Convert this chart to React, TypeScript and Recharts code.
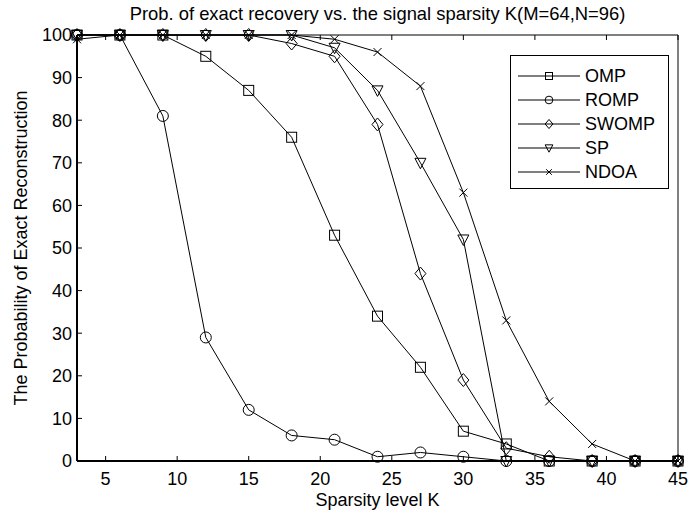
import React from 'react';
import { Legend, Line, LineChart, XAxis, YAxis } from 'recharts';

const ks = [3, 6, 9, 12, 15, 18, 21, 24, 27, 30, 33, 36, 39, 42, 45];
const ompVals = [100, 100, 100, 95, 87, 76, 53, 34, 22, 7, 4, 0, 0, 0, 0];
const rompVals = [100, 100, 81, 29, 12, 6, 5, 1, 2, 1, 0, 0, 0, 0, 0];
const swompVals = [100, 100, 100, 100, 100, 98, 95, 79, 44, 19, 3, 1, 0, 0, 0];
const spVals = [100, 100, 100, 100, 100, 100, 97, 87, 70, 52, 0, 0, 0, 0, 0];
const ndoaVals = [99, 100, 100, 100, 100, 100, 99, 96, 88, 63, 33, 14, 4, 0, 0];

const xTicks = [5, 10, 15, 20, 25, 30, 35, 40, 45];
const yTicks = [0, 10, 20, 30, 40, 50, 60, 70, 80, 90, 100];

const FONT = '"Liberation Sans", Arial, sans-serif';
const TICK_LEN = 5;

type Shape = 'square' | 'circle' | 'diamond' | 'triangle' | 'cross';

const series: { key: string; name: string; shape: Shape }[] = [
  { key: 'omp', name: 'OMP', shape: 'square' },
  { key: 'romp', name: 'ROMP', shape: 'circle' },
  { key: 'swomp', name: 'SWOMP', shape: 'diamond' },
  { key: 'sp', name: 'SP', shape: 'triangle' },
  { key: 'ndoa', name: 'NDOA', shape: 'cross' }
];

const data = ks.map((k, i) => ({
  k,
  omp: ompVals[i],
  romp: rompVals[i],
  swomp: swompVals[i],
  sp: spVals[i],
  ndoa: ndoaVals[i]
}));

function marker(shape: Shape, cx: number, cy: number, s: number, key?: string) {
  const common = { fill: 'none', stroke: '#000', strokeWidth: 1 };
  switch (shape) {
    case 'square':
      return <rect key={key} x={cx - 5 * s} y={cy - 5 * s} width={10 * s} height={10 * s} {...common} />;
    case 'circle':
      return <circle key={key} cx={cx} cy={cy} r={5.5 * s} {...common} />;
    case 'diamond':
      return (
        <polygon
          key={key}
          points={`${cx},${cy - 6.5 * s} ${cx + 5.5 * s},${cy} ${cx},${cy + 6.5 * s} ${cx - 5.5 * s},${cy}`}
          {...common}
        />
      );
    case 'triangle':
      return (
        <polygon
          key={key}
          points={`${cx - 5.5 * s},${cy - 4.5 * s} ${cx + 5.5 * s},${cy - 4.5 * s} ${cx},${cy + 6 * s}`}
          {...common}
        />
      );
    default:
      return (
        <path
          key={key}
          d={`M${cx - 4 * s},${cy - 4 * s}L${cx + 4 * s},${cy + 4 * s}M${cx - 4 * s},${cy + 4 * s}L${cx + 4 * s},${cy - 4 * s}`}
          {...common}
        />
      );
  }
}

// inward MATLAB-style ticks; tickSize is 0 so the tick position sits on the axis line
const BOTTOM_GAP = 11;
function BottomTick(p: any) {
  const axisY = p.y - BOTTOM_GAP;
  return (
    <g>
      <line x1={p.x} x2={p.x} y1={axisY} y2={axisY - TICK_LEN} stroke="#000" />
      <text x={p.x} y={p.y} dy="0.71em" textAnchor="middle" fontSize={18} fontFamily={FONT} fill="#000">
        {p.payload.value}
      </text>
    </g>
  );
}

const LEFT_GAP = 5;
function LeftTick(p: any) {
  const axisX = p.x + LEFT_GAP;
  return (
    <g>
      <line x1={axisX} x2={axisX + TICK_LEN} y1={p.y} y2={p.y} stroke="#000" />
      <text x={p.x} y={p.y} dy="0.355em" textAnchor="end" fontSize={18} fontFamily={FONT} fill="#000">
        {p.payload.value}
      </text>
    </g>
  );
}

function TopTick(p: any) {
  return <line x1={p.x} x2={p.x} y1={p.y} y2={p.y + TICK_LEN} stroke="#000" />;
}

function RightTick(p: any) {
  return <line x1={p.x} x2={p.x - TICK_LEN} y1={p.y} y2={p.y} stroke="#000" />;
}

function LegendBox() {
  return (
    <svg width={159} height={134} style={{ display: 'block' }}>
      <rect x={0.5} y={0.5} width={158} height={133} fill="#fff" stroke="#000" strokeWidth={1} />
      {series.map((s, i) => {
        const y = 21 + i * 24;
        return (
          <g key={s.key}>
            <line x1={8} x2={70} y1={y} y2={y} stroke="#000" strokeWidth={1} />
            {marker(s.shape, 39, y, 0.7)}
            <text x={75} y={y} dy="0.36em" fontSize={18} fontFamily={FONT} fill="#000">
              {s.name}
            </text>
          </g>
        );
      })}
    </svg>
  );
}

export default function App() {
  return (
    <div style={{ position: 'absolute', left: 0, top: 0, width: 689, height: 513, background: '#fff' }}>
      <LineChart width={689} height={513} data={data} margin={{ top: 0, right: 6, bottom: 5, left: 17 }}>
        <XAxis
          dataKey="k"
          type="number"
          domain={[3, 45]}
          ticks={xTicks}
          interval={0}
          height={47}
          tickSize={0}
          tickMargin={BOTTOM_GAP}
          axisLine={{ stroke: '#000', strokeWidth: 2 }}
          tickLine={false}
          tick={BottomTick}
          label={{ value: 'Sparsity level K', position: 'insideBottom', offset: 2.5, fontSize: 18, fill: '#000', fontFamily: FONT }}
        />
        <XAxis
          xAxisId="top"
          orientation="top"
          dataKey="k"
          type="number"
          domain={[3, 45]}
          ticks={xTicks}
          interval={0}
          height={35}
          tickSize={0}
          tickMargin={0}
          tick={TopTick}
          axisLine={{ stroke: '#000', strokeWidth: 1 }}
          tickLine={false}
          label={{
            value: 'Prob. of exact recovery vs. the signal sparsity K(M=64,N=96)',
            position: 'insideTop',
            offset: 7,
            fontSize: 18.4,
            fill: '#000',
            fontFamily: FONT
          }}
        />
        <YAxis
          type="number"
          domain={[0, 100]}
          ticks={yTicks}
          interval={0}
          width={60}
          tickSize={0}
          tickMargin={LEFT_GAP}
          axisLine={{ stroke: '#000', strokeWidth: 2 }}
          tickLine={false}
          tick={LeftTick}
          label={{
            value: 'The Probability of Exact Reconstruction',
            angle: -90,
            position: 'insideLeft',
            offset: 8,
            dx: -4,
            style: { textAnchor: 'middle' },
            fontSize: 18,
            fill: '#000',
            fontFamily: FONT
          }}
        />
        <YAxis
          yAxisId="right"
          orientation="right"
          type="number"
          domain={[0, 100]}
          ticks={yTicks}
          interval={0}
          width={5}
          tickSize={0}
          tickMargin={0}
          tick={RightTick}
          axisLine={{ stroke: '#000', strokeWidth: 1 }}
          tickLine={false}
        />
        <Legend
          layout="vertical"
          align="center"
          verticalAlign="middle"
          content={() => <LegendBox />}
          wrapperStyle={{ position: 'absolute', left: 510, top: 55, width: 159, height: 134 }}
        />
        {series.map((s) => (
          <Line
            key={s.key}
            type="linear"
            dataKey={s.key}
            name={s.name}
            stroke="#000"
            strokeWidth={1}
            isAnimationActive={false}
            dot={(p: any) => marker(s.shape, p.cx, p.cy, 1, `${s.key}-${p.index}`)}
            activeDot={false}
          />
        ))}
      </LineChart>
    </div>
  );
}
